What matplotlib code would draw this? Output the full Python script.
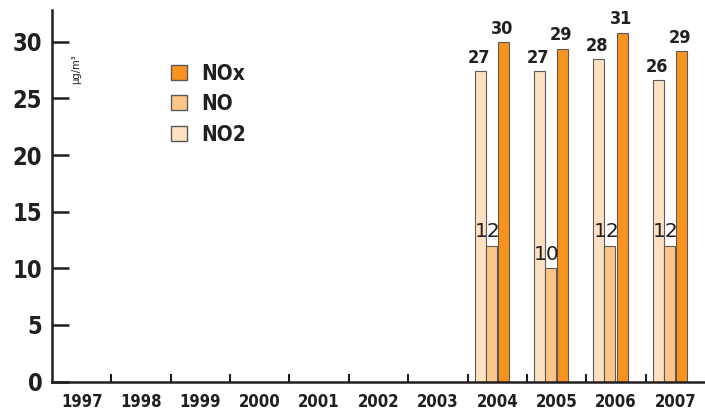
import numpy as np
import matplotlib
matplotlib.use("Agg")
import matplotlib.pyplot as plt
from matplotlib.patches import Patch

plt.rcParams['font.family'] = ['DejaVu Sans']
plt.rcParams['font.stretch'] = 'condensed'
plt.rcParams['font.weight'] = 'bold'

# DATA
years = ['1997', '1998', '1999', '2000', '2001', '2002', '2003', '2004', '2005', '2006', '2007']
data_years = ['2004', '2005', '2006', '2007']
no2 = [27.4, 27.4, 28.5, 26.6]
no = [12.0, 10.0, 12.0, 12.0]
nox = [30.0, 29.4, 30.8, 29.2]
no2_lbl = ['27', '27', '28', '26']
no_lbl = ['12', '10', '12', '12']
nox_lbl = ['30', '29', '31', '29']

c_nox = '#F7931E'
c_no = '#FDC688'
c_no2 = '#FEE1C0'
edge = '#5a5a5a'
ink = '#231f20'

fig = plt.figure(figsize=(7.05, 4.17), dpi=100)
ax = fig.add_axes([52/705, 35.4/417, 653/705, 371.6/417])

idx = np.array([years.index(y) for y in data_years])
w = 0.185
b1 = ax.bar(idx + 0.118, no2, w, align='edge', color=c_no2, edgecolor=edge, linewidth=0.8)
b2 = ax.bar(idx + 0.303, no, w, align='edge', color=c_no, edgecolor=edge, linewidth=0.8)
b3 = ax.bar(idx + 0.51, nox, w, align='edge', color=c_nox, edgecolor=edge, linewidth=0.8)

for bars, lbls in ((b1, no2_lbl), (b3, nox_lbl)):
    for r, t in zip(bars, lbls):
        ax.annotate(t, (r.get_x() + r.get_width()/2, r.get_height()),
                    xytext=(-1, 3), textcoords='offset points',
                    ha='center', va='bottom', fontsize=13, color=ink)
for r, t in zip(b2, no_lbl):
    ax.annotate(t, (r.get_x() + r.get_width()/2, r.get_height()),
                xytext=(-2.5, 3), textcoords='offset points',
                ha='center', va='bottom', fontsize=14.5, color=ink,
                fontweight='normal', fontstretch='normal')

ax.set_xlim(0, len(years))
ax.set_ylim(0, 32.8)

for s in ['top', 'right']:
    ax.spines[s].set_visible(False)
for s in ['left', 'bottom']:
    ax.spines[s].set_linewidth(1.8)
    ax.spines[s].set_color(ink)

ax.set_yticks(range(0, 31, 5))
ax.tick_params(axis='y', direction='in', length=12, width=1.8, labelsize=17,
               colors=ink, pad=7)
ax.set_xticks(np.arange(1, len(years)))
ax.set_xticklabels([])
ax.tick_params(axis='x', which='major', direction='in', length=6, width=1.5, colors=ink)
ax.set_xticks(np.arange(len(years)) + 0.5, minor=True)
ax.set_xticklabels(years, minor=True)
ax.tick_params(axis='x', which='minor', length=0, labelsize=12, pad=8, colors=ink)

ax.text(0.40, 27.6, 'μg/m³', rotation=90, fontsize=8, ha='center', va='center',
        color=ink, fontweight='normal')

handles = [Patch(facecolor=c_nox, edgecolor=edge, label='NOx'),
           Patch(facecolor=c_no, edgecolor=edge, label='NO'),
           Patch(facecolor=c_no2, edgecolor=edge, label='NO2')]
ax.legend(handles=handles, loc='upper left', bbox_to_anchor=(0.154, 0.906), frameon=False,
          fontsize=15, handlelength=0.75, handleheight=0.75, handletextpad=0.67, labelspacing=0.5,
          labelcolor=ink)

fig.savefig('out.png', dpi=100)
